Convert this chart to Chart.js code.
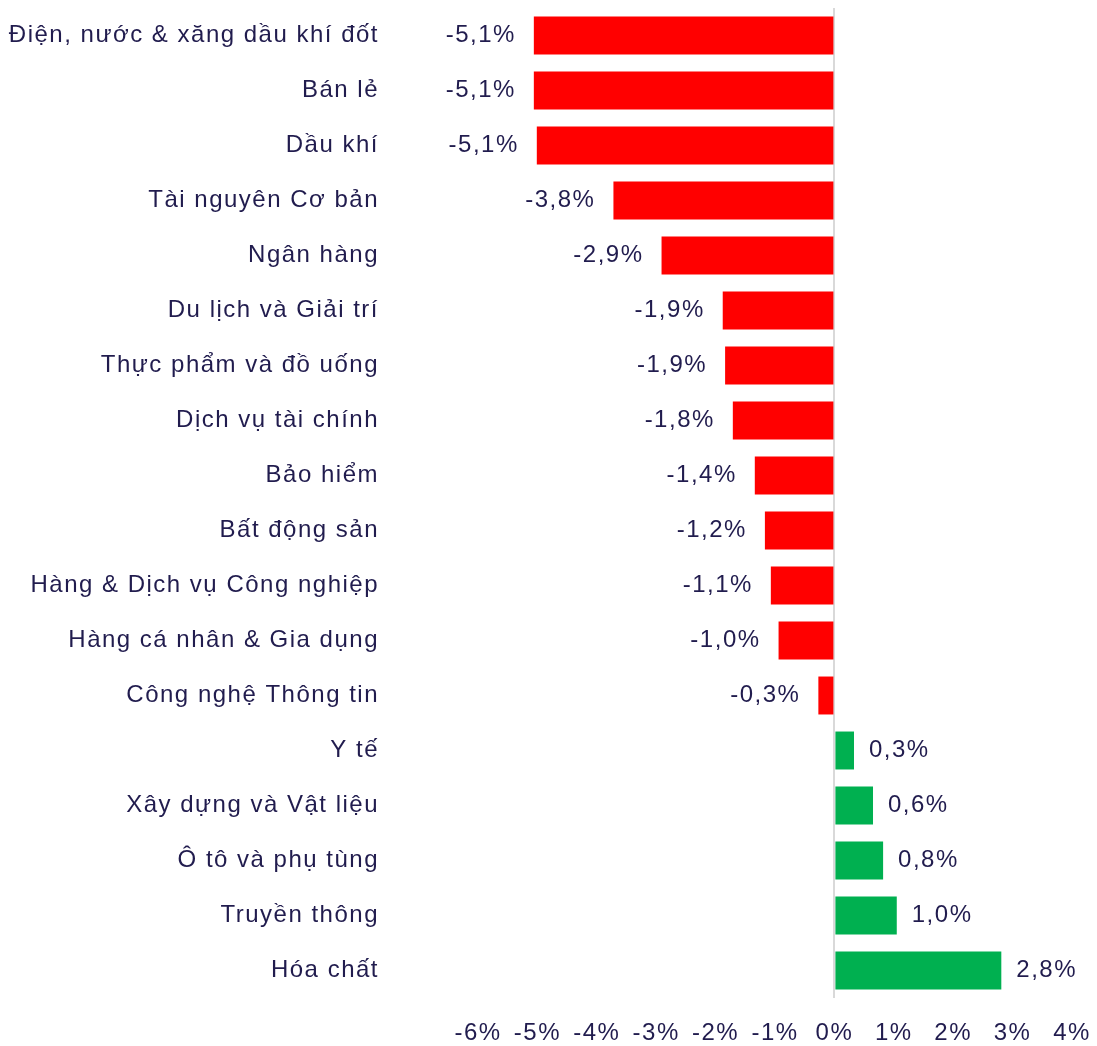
<!DOCTYPE html>
<html>
<head>
<meta charset="utf-8">
<script src="https://cdn.jsdelivr.net/npm/chart.js@4/dist/chart.umd.min.js"></script>
<style>
html,body{margin:0;padding:0;background:#fff;}
#wrap{width:1097px;height:1046px;}
</style>
</head>
<body>
<div id="wrap"><canvas id="c" width="1097" height="1046"></canvas></div>
<script>
const categories = [
  "Điện, nước & xăng dầu khí đốt",
  "Bán lẻ",
  "Dầu khí",
  "Tài nguyên Cơ bản",
  "Ngân hàng",
  "Du lịch và Giải trí",
  "Thực phẩm và đồ uống",
  "Dịch vụ tài chính",
  "Bảo hiểm",
  "Bất động sản",
  "Hàng & Dịch vụ Công nghiệp",
  "Hàng cá nhân & Gia dụng",
  "Công nghệ Thông tin",
  "Y tế",
  "Xây dựng và Vật liệu",
  "Ô tô và phụ tùng",
  "Truyền thông",
  "Hóa chất"
];
const changeValues = [-5.06, -5.06, -5.01, -3.72, -2.91, -1.88, -1.84, -1.71, -1.34, -1.17, -1.07, -0.94, -0.27, 0.33, 0.65, 0.82, 1.05, 2.81];
const valueLabels = ["-5,1%", "-5,1%", "-5,1%", "-3,8%", "-2,9%", "-1,9%", "-1,9%", "-1,8%", "-1,4%", "-1,2%", "-1,1%", "-1,0%", "-0,3%", "0,3%", "0,6%", "0,8%", "1,0%", "2,8%"];
const xTicks = [-6, -5, -4, -3, -2, -1, 0, 1, 2, 3, 4];

const TEXT = "#211C4E";
const FONT = "'Liberation Sans', Arial, sans-serif";
const FS = 24;
const LS = '1.5px';

const spacingPlugin = {
  id: 'spacing',
  beforeLayout(chart) { chart.ctx.letterSpacing = LS; },
  beforeDraw(chart) { chart.ctx.letterSpacing = LS; }
};

const labelPlugin = {
  id: 'valueLabels',
  afterDatasetsDraw(chart) {
    const ctx = chart.ctx;
    const meta = chart.getDatasetMeta(0);
    ctx.save();
    ctx.letterSpacing = LS;
    ctx.font = FS + "px " + FONT;
    ctx.fillStyle = TEXT;
    ctx.textBaseline = 'middle';
    meta.data.forEach((bar, i) => {
      const v = changeValues[i];
      if (v < 0) {
        ctx.textAlign = 'right';
        ctx.fillText(valueLabels[i], bar.x - 18, bar.y);
      } else {
        ctx.textAlign = 'left';
        ctx.fillText(valueLabels[i], bar.x + 15, bar.y);
      }
    });
    ctx.restore();
  }
};

new Chart(document.getElementById('c'), {
  type: 'bar',
  data: {
    labels: categories,
    datasets: [{
      data: changeValues,
      backgroundColor: changeValues.map(v => v < 0 ? '#FF0000' : '#00B050'),
      borderWidth: 0,
      barPercentage: 0.69,
      categoryPercentage: 1.0
    }]
  },
  options: {
    indexAxis: 'y',
    responsive: false,
    maintainAspectRatio: false,
    animation: false,
    devicePixelRatio: 1,
    layout: { padding: { top: 8, right: 25, bottom: 0, left: 0 } },
    plugins: { legend: { display: false }, tooltip: { enabled: false } },
    scales: {
      x: {
        type: 'linear',
        min: -6, max: 4,
        afterBuildTicks(scale) { scale.ticks = xTicks.map(v => ({ value: v })); },
        afterFit(scale) { scale.paddingLeft = 0; scale.paddingRight = 0; scale.height = 48; },
        ticks: {
          color: TEXT,
          font: { family: FONT, size: FS },
          padding: 21,
          maxRotation: 0,
          autoSkip: false,
          callback: v => v + '%'
        },
        grid: {
          drawTicks: false,
          lineWidth: 2,
          color: ctx => (ctx.tick && ctx.tick.value === 0) ? '#D9D9D9' : 'rgba(0,0,0,0)'
        },
        border: { display: false }
      },
      y: {
        afterFit(scale) { scale.width = 478; scale.paddingTop = 0; scale.paddingBottom = 0; },
        ticks: {
          color: TEXT,
          font: { family: FONT, size: FS },
          padding: 99,
          autoSkip: false
        },
        grid: { display: false, drawTicks: false },
        border: { display: false }
      }
    }
  },
  plugins: [spacingPlugin, labelPlugin]
});
</script>
</body>
</html>
